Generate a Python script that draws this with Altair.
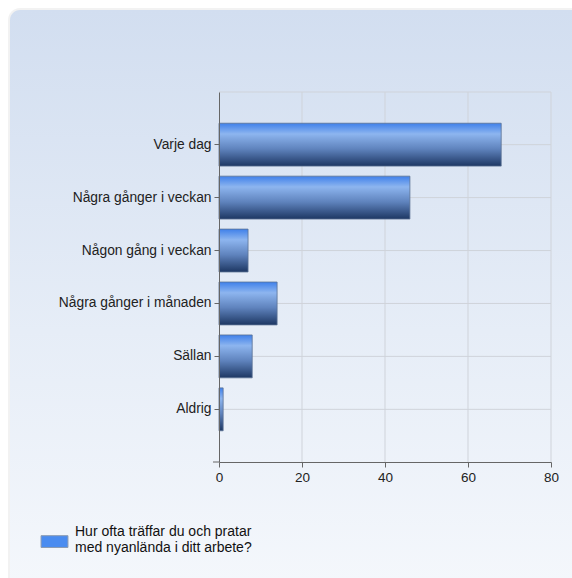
import altair as alt
import pandas as pd

categories = ["Varje dag", "Några gånger i veckan", "Någon gång i veckan",
              "Några gånger i månaden", "Sällan", "Aldrig"]
values = [68, 46, 7, 14, 8, 1]
series_name = "Hur ofta träffar du och pratar|med nyanlända i ditt arbete?"
x_ticks = [0, 20, 40, 60, 80]
grid_x = [20, 40, 60, 80]

FONT = "Liberation Sans"
W, H = 332, 370

df = pd.DataFrame({"cat": categories, "value": values, "serie": [series_name] * len(categories)})
grid_df = pd.DataFrame({"gx": grid_x})
one = pd.DataFrame({"k": [0]})

y_enc = alt.Y("cat:N", sort=categories,
              scale=alt.Scale(paddingInner=0.19, paddingOuter=0.59),
              axis=alt.Axis(title=None, labelFontSize=13.8, labelFont=FONT, labelColor="#222",
                            domainColor="#666", tickColor="#666", tickSize=5, labelPadding=3,
                            grid=False, zindex=1, labelLimit=300))
x_enc = alt.X("value:Q", scale=alt.Scale(domain=[0, 80], nice=False),
              axis=alt.Axis(title=None, values=x_ticks, labelFontSize=13.5, labelFont=FONT,
                            labelColor="#222", domainColor="#666", tickColor="#666",
                            tickSize=5, grid=False, zindex=1, labelPadding=3,
                            labelFlush=False))

bg_grad = alt.LinearGradient(gradient="linear",
                             stops=[alt.GradientStop(color="#d2def0", offset=0),
                                    alt.GradientStop(color="#e6edf7", offset=0.5),
                                    alt.GradientStop(color="#f8fafd", offset=1)],
                             x1=0, x2=0, y1=0, y2=1)
shadow = alt.Chart(one).mark_rect(cornerRadius=12, fill="#000000", opacity=0.05).encode(
    x=alt.value(-211), x2=alt.value(400), y=alt.value(-84), y2=alt.value(560))
background = alt.Chart(one).mark_rect(cornerRadius=10, fill=bg_grad).encode(
    x=alt.value(-209), x2=alt.value(400), y=alt.value(-82), y2=alt.value(560))

vgrid = alt.Chart(grid_df).mark_rule(color="#cfd3da", strokeWidth=1).encode(
    x=alt.X("gx:Q", scale=alt.Scale(domain=[0, 80], nice=False)))
hgrid = alt.Chart(df).mark_rule(color="#cfd3da", strokeWidth=1).encode(y=y_enc)
top_line = alt.Chart(one).mark_rule(color="#cfd3da", strokeWidth=1).encode(
    y=alt.value(0), x=alt.value(0), x2=alt.value(W))
x_domain_ext = alt.Chart(one).mark_rule(color="#666", strokeWidth=1).encode(
    y=alt.value(H), x=alt.value(-6), x2=alt.value(0))

bar_grad = alt.LinearGradient(gradient="linear",
                              stops=[alt.GradientStop(color="#3f80ea", offset=0),
                                     alt.GradientStop(color="#8db5ef", offset=0.25),
                                     alt.GradientStop(color="#5f83bd", offset=0.6),
                                     alt.GradientStop(color="#1d3763", offset=1)],
                              x1=0, x2=0, y1=0, y2=1)
bars = alt.Chart(df).mark_bar(fill=bar_grad, stroke="#5b7294", strokeWidth=1,
                              strokeOpacity=0.8).encode(x=x_enc, y=y_enc)

legend_layer = alt.Chart(df).mark_bar(opacity=0).encode(
    x=x_enc, y=y_enc,
    color=alt.Color("serie:N", scale=alt.Scale(range=["#4a8cf0"]),
                    legend=alt.Legend(title=None, orient="none", legendX=-179, legendY=425,
                                      symbolType="M-0.96,0.3H0.96V1.14H-0.96Z", symbolSize=784,
                                      symbolOpacity=1, symbolStrokeColor="#8a9ab0",
                                      symbolStrokeWidth=1, labelFont=FONT, labelFontSize=14,
                                      labelColor="#111", labelLimit=400, labelOffset=6,
                                      labelExpr="split(datum.label, '|')")))

chart = alt.layer(shadow, background, vgrid, hgrid, top_line, x_domain_ext, bars,
                  legend_layer).properties(
    width=W, height=H,
    autosize=alt.AutoSizeParams(type="none"),
    padding={"left": 219, "top": 92, "right": 21, "bottom": 116},
).configure_view(stroke=None).configure(background="white")

chart.save("out.html", embed_options={"renderer": "svg", "actions": False})
